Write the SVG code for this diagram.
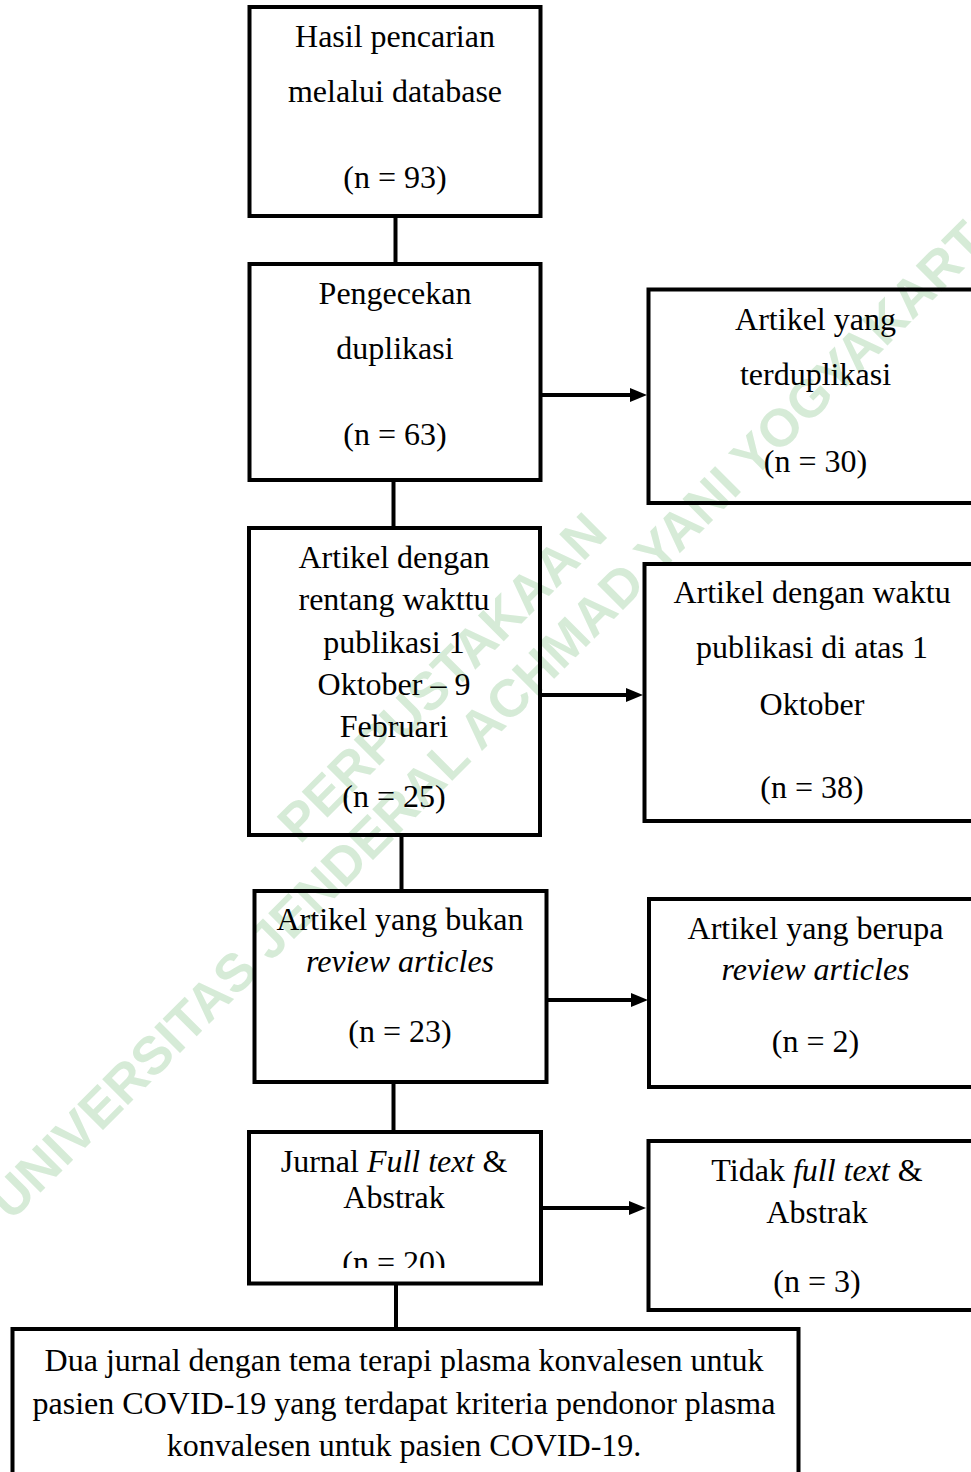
<svg xmlns="http://www.w3.org/2000/svg" width="971" height="1472" viewBox="0 0 971 1472">
<style>
.box{fill:none;stroke:#000;stroke-width:4}
.ln{fill:none;stroke:#000;stroke-width:4}
.t{font-family:"Liberation Serif","Times New Roman",serif;font-size:32px;fill:#000;text-anchor:middle}
.i{font-style:italic}
.wm{font-family:"Liberation Sans",Arial,sans-serif;font-weight:bold;font-size:53px;fill:#d6ebd7}
</style>
<defs>
<marker id="ah" markerUnits="userSpaceOnUse" markerWidth="17" markerHeight="14" refX="0" refY="7" orient="auto">
<path d="M0,0 L17,7 L0,14 z" fill="#000"/>
</marker>
<clipPath id="clip20"><rect x="240" y="1130" width="310" height="138"/></clipPath>
</defs>
<rect width="971" height="1472" fill="#fff"/>
<g id="watermark">
<text class="wm" transform="translate(11,1222) rotate(-45)">UNIVERSITAS JENDERAL ACHMAD YANI YOGYAKARTA</text>
<text class="wm" transform="translate(300,845) rotate(-45)">PERPUSTAKAAN</text>
</g>
<g id="connectors">
<line class="ln" x1="395.5" y1="216" x2="395.5" y2="264"/>
<line class="ln" x1="393.5" y1="480" x2="393.5" y2="528"/>
<line class="ln" x1="401.5" y1="835" x2="401.5" y2="891"/>
<line class="ln" x1="393.5" y1="1082" x2="393.5" y2="1132"/>
<line class="ln" x1="396" y1="1283" x2="396" y2="1329"/>
<line class="ln" x1="541" y1="395" x2="630" y2="395" marker-end="url(#ah)"/>
<line class="ln" x1="540" y1="695" x2="626" y2="695" marker-end="url(#ah)"/>
<line class="ln" x1="546" y1="1000" x2="631" y2="1000" marker-end="url(#ah)"/>
<line class="ln" x1="541" y1="1208" x2="629" y2="1208" marker-end="url(#ah)"/>
</g>
<g id="n1">
<rect class="box" x="249.5" y="7" width="291" height="209"/>
<text class="t" x="395" y="47">Hasil pencarian</text>
<text class="t" x="395" y="102">melalui database</text>
<text class="t" x="395" y="188">(n = 93)</text>
</g>
<g id="n2">
<rect class="box" x="249.5" y="264" width="291" height="216"/>
<text class="t" x="395" y="304">Pengecekan</text>
<text class="t" x="395" y="359">duplikasi</text>
<text class="t" x="395" y="445">(n = 63)</text>
</g>
<g id="r1">
<rect class="box" x="648.5" y="289.5" width="340" height="213.5"/>
<text class="t" x="815.5" y="330">Artikel yang</text>
<text class="t" x="815.5" y="385">terduplikasi</text>
<text class="t" x="815.5" y="472">(n = 30)</text>
</g>
<g id="n3">
<rect class="box" x="249" y="528" width="291" height="307"/>
<text class="t" x="394" y="568">Artikel dengan</text>
<text class="t" x="394" y="610">rentang wakttu</text>
<text class="t" x="394" y="653">publikasi 1</text>
<text class="t" x="394" y="695">Oktober – 9</text>
<text class="t" x="394" y="737">Februari</text>
<text class="t" x="394" y="807">(n = 25)</text>
</g>
<g id="r2">
<rect class="box" x="644.5" y="564" width="340" height="257"/>
<text class="t" x="812" y="603">Artikel dengan waktu</text>
<text class="t" x="812" y="658">publikasi di atas 1</text>
<text class="t" x="812" y="715">Oktober</text>
<text class="t" x="812" y="798">(n = 38)</text>
</g>
<g id="n4">
<rect class="box" x="254.5" y="891" width="292" height="191"/>
<text class="t" x="400" y="930">Artikel yang bukan</text>
<text class="t i" x="400" y="972">review articles</text>
<text class="t" x="400" y="1042">(n = 23)</text>
</g>
<g id="r3">
<rect class="box" x="649" y="899" width="340" height="188"/>
<text class="t" x="815.5" y="939">Artikel yang berupa</text>
<text class="t i" x="815.5" y="980">review articles</text>
<text class="t" x="815.5" y="1052">(n = 2)</text>
</g>
<g id="n5">
<rect class="box" x="249" y="1132" width="292" height="151.5"/>
<text class="t" x="394" y="1172">Jurnal <tspan class="i">Full text</tspan> &amp;</text>
<text class="t" x="394" y="1208">Abstrak</text>
<text class="t" x="394" y="1273" clip-path="url(#clip20)">(n = 20)</text>
</g>
<g id="r4">
<rect class="box" x="648.5" y="1141" width="340" height="169"/>
<text class="t" x="817" y="1181">Tidak <tspan class="i">full text</tspan> &amp;</text>
<text class="t" x="817" y="1223">Abstrak</text>
<text class="t" x="817" y="1292">(n = 3)</text>
</g>
<g id="n6">
<rect class="box" x="12.5" y="1329" width="786" height="160"/>
<text class="t" x="404" y="1371">Dua jurnal dengan tema terapi plasma konvalesen untuk</text>
<text class="t" x="404" y="1414">pasien COVID-19 yang terdapat kriteria pendonor plasma</text>
<text class="t" x="404" y="1456">konvalesen untuk pasien COVID-19.</text>
</g>
</svg>
